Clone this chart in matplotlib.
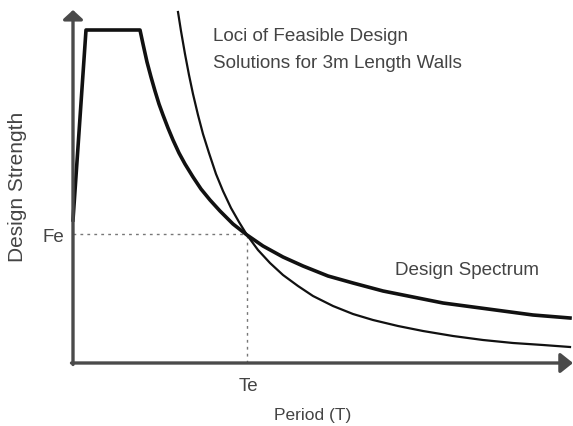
import matplotlib
matplotlib.use("Agg")
import matplotlib.pyplot as plt

# Data (units: arbitrary)
spec_T = [0, 13, 67, 70, 74, 78, 82, 86, 90, 95, 100, 106, 112, 120, 128, 137, 147, 160,
          174, 190, 210, 230, 255, 280, 310, 340, 370, 400, 430, 460, 497]
spec_S = [143, 333, 333, 319, 301, 286, 272, 259, 248, 235, 223, 210, 199, 186, 174, 163, 152, 139,
          128, 117, 106, 97, 87, 80, 72, 66, 60, 56, 52, 48, 45]

loci_T = [105, 108, 112, 116, 120, 125, 130, 136, 143, 150, 158, 166, 174, 185, 197, 210, 225,
          240, 260, 280, 300, 325, 350, 380, 410, 440, 470, 497]
loci_S = [351, 332, 309, 288, 269, 248, 229, 210, 189, 172, 155, 141, 128, 113, 100, 88, 77,
          67, 57, 49, 43, 37, 32, 27, 23, 20, 18, 16]

Te = 174
Fe = 129

W, H = 573, 426
fig = plt.figure(figsize=(W / 100, H / 100), dpi=100)
ax = fig.add_axes([73 / W, 63 / H, 500 / W, 360 / H])
ax.set_xlim(0, 500)
ax.set_ylim(0, 360)
ax.axis("off")

axis_col = "#4a4a4a"
txt_col = "#444444"
font = ["Liberation Sans", "DejaVu Sans"]

# axes with arrows
ax.annotate("", xy=(0, 353), xytext=(0, -1.5),
            arrowprops=dict(arrowstyle="-|>,head_length=0.55,head_width=0.6", lw=2.4,
                            color=axis_col, shrinkA=0, shrinkB=0), annotation_clip=False)
ax.annotate("", xy=(500, 0), xytext=(-1.5, 0),
            arrowprops=dict(arrowstyle="-|>,head_length=0.75,head_width=0.6", lw=2.4,
                            color=axis_col, shrinkA=0, shrinkB=0), annotation_clip=False)

# dotted guide lines
ax.plot([0, Te], [Fe, Fe], ls=(0, (2, 3)), color="#777777", lw=1.0)
ax.plot([Te, Te], [0, Fe], ls=(0, (2, 3)), color="#777777", lw=1.0)

# curves
ax.plot(spec_T, spec_S, color="#111111", lw=2.6, solid_joinstyle="round", clip_on=False)
ax.plot(loci_T, loci_S, color="#111111", lw=1.6, solid_joinstyle="round", clip_on=False)

# texts
fs = 13.6
kw = dict(color=txt_col, family=font)
fig.text(213 / W, 1 - 41 / H, "Loci of Feasible Design", ha="left", va="baseline",
         fontsize=fs, **kw)
fig.text(213 / W, 1 - 68 / H, "Solutions for 3m Length Walls", ha="left", va="baseline",
         fontsize=fs, **kw)
fig.text(395 / W, 1 - 275 / H, "Design Spectrum", ha="left", va="baseline",
         fontsize=fs, **kw)
fig.text(64 / W, 1 - 242 / H, "Fe", ha="right", va="baseline",
         fontsize=13.5, **kw)
fig.text(248 / W, 1 - 391 / H, "Te", ha="center", va="baseline",
         fontsize=13.5, **kw)
fig.text(313 / W, 1 - 420 / H, "Period (T)", ha="center", va="baseline",
         fontsize=12.5, **kw)
fig.text(23 / W, 1 - 187 / H, "Design Strength", ha="center", va="baseline", rotation=90,
         rotation_mode="anchor", fontsize=15, **kw)

fig.savefig("out.png", dpi=100)
